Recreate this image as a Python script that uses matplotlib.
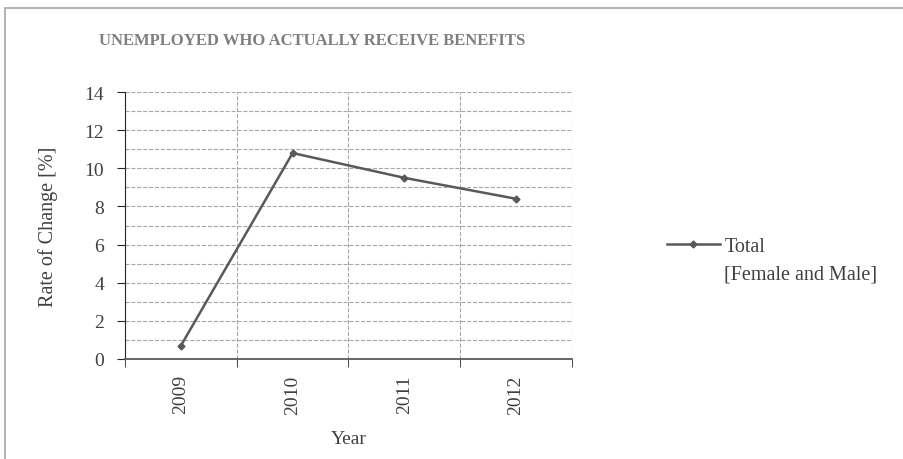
import matplotlib.pyplot as plt
from matplotlib.patches import Rectangle
from matplotlib.ticker import MultipleLocator

years = ['2009', '2010', '2011', '2012']
rate_total = [0.7, 10.8, 9.5, 8.4]
y_ticks = [0, 2, 4, 6, 8, 10, 12, 14]

plt.rcParams['font.family'] = ['Liberation Serif', 'DejaVu Serif']
txt = '#404040'
fs = 14

fig = plt.figure(figsize=(9.04, 4.6), dpi=100)
ax = fig.add_axes([0.1383, 0.2174, 0.4944, 0.5804])

# outer chart border (right/bottom cut off like the reference)
fig.patches.append(Rectangle((0.005, -0.05), 1.2, 0.05 + 0.980, transform=fig.transFigure,
                             fill=False, edgecolor='#a6a6a6', linewidth=1.2))

x = list(range(len(years)))
ax.plot(x, rate_total, color='#595959', linewidth=1.8, marker='D', markersize=3.5,
        label='Total')

ax.set_xlim(-0.5, len(years) - 0.5)
ax.set_ylim(0, 14)
ax.set_yticks(y_ticks)
ax.yaxis.set_minor_locator(MultipleLocator(1))
ax.set_xticks(x)
ax.set_xticklabels(years, rotation=90)
ax.set_xticks([i - 0.5 for i in range(len(years) + 1)], minor=True)

ax.tick_params(axis='x', which='major', length=0, pad=11, labelsize=fs, labelcolor=txt)
ax.tick_params(axis='x', which='minor', length=6, direction='out', color='#262626')
ax.tick_params(axis='y', which='major', length=6, direction='out', pad=9, labelsize=fs,
               labelcolor=txt, color='#262626')
ax.tick_params(axis='y', which='minor', length=0)

ax.grid(True, which='major', axis='y', linestyle='--', color='#a6a6a6', linewidth=0.8)
ax.grid(True, which='minor', axis='both', linestyle='--', color='#a6a6a6', linewidth=0.8)

ax.spines['top'].set_visible(False)
ax.spines['right'].set_visible(False)
ax.spines['left'].set_color('#262626')
ax.spines['bottom'].set_color('#595959')
ax.spines['bottom'].set_linewidth(1.3)

ax.set_xlabel('Year', fontsize=fs, color=txt, labelpad=12)
ax.set_ylabel('Rate of Change [%]', fontsize=fs + 0.5, color=txt)
ax.yaxis.set_label_coords(-0.150, 0.5)

fig.text(0.11, 0.911, 'UNEMPLOYED WHO ACTUALLY RECEIVE BENEFITS', fontsize=12,
         fontweight='bold', color='#7f7f7f', ha='left', va='center')

leg = fig.legend(loc='center left', bbox_to_anchor=(0.738, 0.461), frameon=False,
                 fontsize=fs + 0.5, handlelength=2.6, handletextpad=0.25,
                 borderpad=0, borderaxespad=0)
for t in leg.get_texts():
    t.set_color(txt)
fig.text(0.801, 0.402, '[Female and Male]', fontsize=fs + 0.5, color=txt,
         ha='left', va='center')

fig.savefig('out.png', dpi=100)
